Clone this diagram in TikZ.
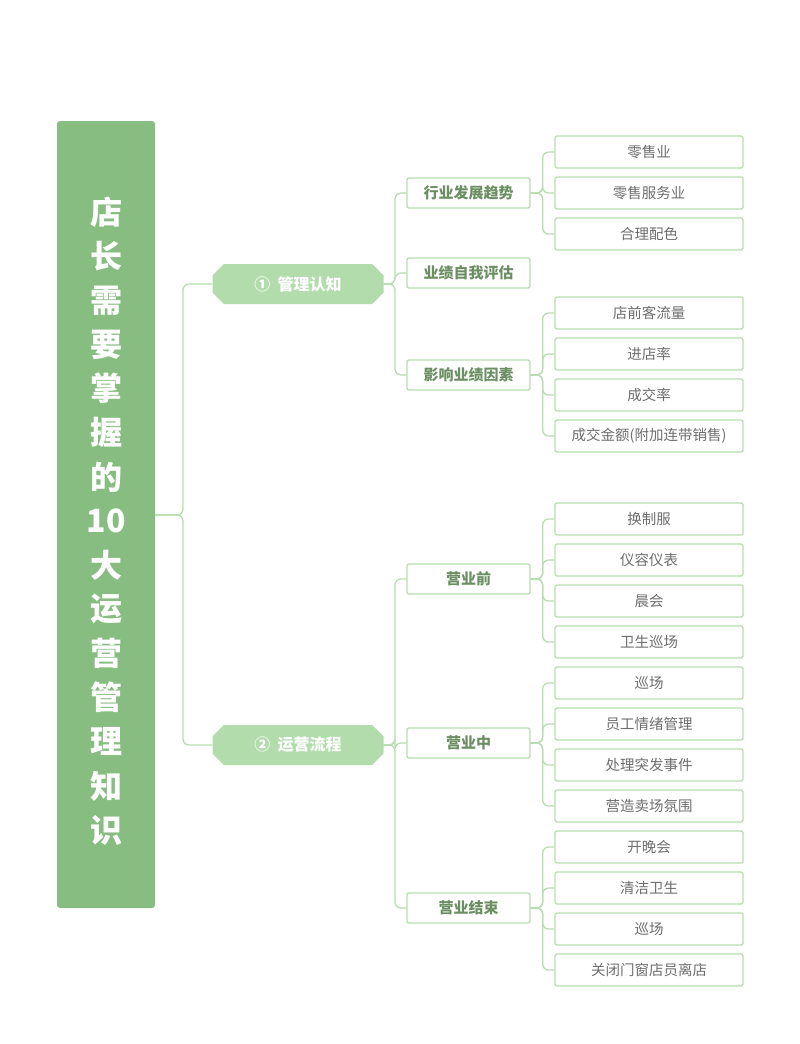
\documentclass[tikz,border=0pt]{standalone}
\usepackage{fontspec}
\setmainfont{Noto Sans CJK SC}
\usetikzlibrary{shapes.misc}
\definecolor{bar}{HTML}{88BD82}
\definecolor{hexf}{HTML}{B3DCAC}
\definecolor{ln}{HTML}{B9DDB2}
\definecolor{lt}{HTML}{6B8F63}
\definecolor{leaf}{HTML}{6E6E6E}
\begin{document}
\begin{tikzpicture}[x=1pt,y=-1pt,
 lvA/.style={shape=chamfered rectangle,chamfered rectangle xsep=15pt,fill=hexf,text=white,font=\bfseries\fontsize{16}{16}\selectfont,minimum width=171pt,minimum height=40pt,inner sep=0pt},
 lvB/.style={draw=ln,line width=1.3pt,rounded corners=2pt,fill=white,text=lt,font=\bfseries\fontsize{15}{15}\selectfont,minimum width=123pt,minimum height=30pt,inner sep=0pt},
 leafn/.style={draw=ln,line width=1.3pt,rounded corners=2pt,fill=white,text=leaf,font=\fontsize{14.5}{14.5}\selectfont,minimum width=188pt,minimum height=32pt,inner sep=0pt},
 ttl/.style={text=white,font=\bfseries\fontsize{32}{32}\selectfont,inner sep=0pt},
 cn/.style={draw=ln,line width=1.3pt,rounded corners=6pt}]
\useasboundingbox (0,0) rectangle (800,1044);
\fill[white] (0,0) rectangle (800,1044);
\node[fill=bar,rounded corners=3pt,minimum width=98pt,minimum height=787pt,inner sep=0pt] (bar) at (106,514.5) {};
\foreach \c [count=\i from 0] in {店,长,需,要,掌,握,的,10,大,运,营,管,理,知,识}
 \node[ttl] (t\i) at (106,{212+\i*44.14}) {\c};
\node[lvA] (A1) at (298,284) {①\ \ 管理认知};
\node[lvA] (A2) at (298,745) {②\ \ 运营流程};
\coordinate (T) at (155,515);
\draw[cn] (T) -- (183,515) |- (A1.west);
\draw[cn] (T) -- (183,515) |- (A2.west);
\foreach \n/\y/\t in {B1/193/行业发展趋势,B2/273/业绩自我评估,B3/375/影响业绩因素}{
 \node[lvB] (\n) at (468.5,\y) {\t};
 \draw[cn] (A1.east) -- (395,284) |- (\n.west);}
\foreach \n/\y/\t in {B4/579/营业前,B5/743/营业中,B6/908/营业结束}{
 \node[lvB] (\n) at (468.5,\y) {\t};
 \draw[cn] (A2.east) -- (395,745) |- (\n.west);}
\foreach \p/\n/\y/\t in {B1/L1/152/零售业,B1/L2/193/零售服务业,B1/L3/234/合理配色,
 B3/L4/313/店前客流量,B3/L5/354/进店率,B3/L6/395/成交率,B3/L7/436/成交金额(附加连带销售),
 B4/L8/519/换制服,B4/L9/560/仪容仪表,B4/L10/601/晨会,B4/L11/642/卫生巡场,
 B5/L12/683/巡场,B5/L13/724/员工情绪管理,B5/L14/765/处理突发事件,B5/L15/806/营造卖场氛围,
 B6/L16/847/开晚会,B6/L17/888/清洁卫生,B6/L18/929/巡场,B6/L19/970/关闭门窗店员离店}{
 \node[leafn] (\n) at (649,\y) {\t};
 \draw[cn] (\p.east) -- ++(12,0) |- (\n.west);}
\end{tikzpicture}
\end{document}
